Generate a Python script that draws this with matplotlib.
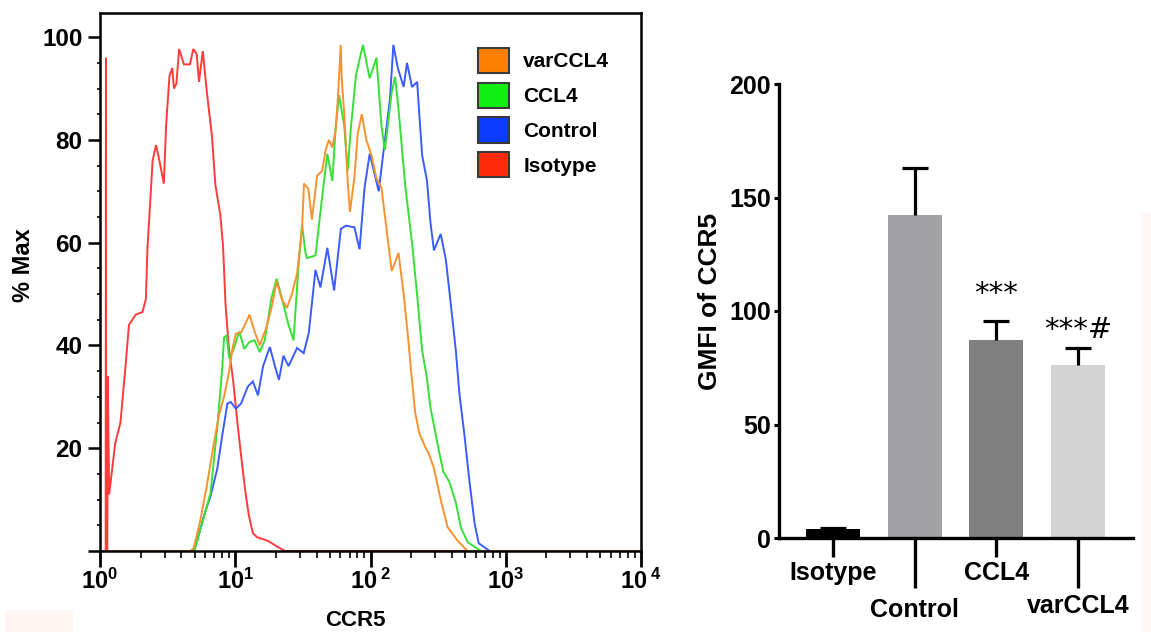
import numpy as np
import matplotlib
matplotlib.use('Agg')
import matplotlib.pyplot as plt
from matplotlib.patches import Patch, Rectangle
from matplotlib.ticker import FixedLocator, NullFormatter

plt.rcParams['font.family'] = ['Liberation Sans', 'DejaVu Sans']
plt.rcParams['font.weight'] = 'bold'
plt.rcParams['mathtext.fontset'] = 'custom'
plt.rcParams['mathtext.rm'] = 'Liberation Sans:bold'
plt.rcParams['mathtext.it'] = 'Liberation Sans:bold'
plt.rcParams['mathtext.bf'] = 'Liberation Sans:bold'

# ---------------- Histogram data (x = log10 CCR5 intensity, y = % Max) ----------------
iso_log10 = [0.000, 0.042, 0.044, 0.046, 0.054, 0.057, 0.068, 0.090, 0.113, 0.151,
             0.189, 0.214, 0.264, 0.314, 0.339, 0.351, 0.376, 0.389, 0.414, 0.439,
             0.472, 0.489, 0.514, 0.534, 0.547, 0.565, 0.585, 0.620, 0.665, 0.690,
             0.715, 0.732, 0.760, 0.790, 0.828, 0.853, 0.890, 0.910, 0.928, 0.953,
             0.985, 1.020, 1.050, 1.075, 1.100, 1.130, 1.160, 1.240, 1.320, 1.370, 4.000]
iso_pct = [0, 0, 96, 0, 0, 34, 11, 16, 21, 25,
           36, 44, 46, 46.5, 49, 59, 70, 76, 79, 76,
           71.5, 83, 92.5, 94, 90, 91, 97.7, 94.7, 94.7, 97.7,
           96.7, 91.3, 97.3, 89.3, 80.7, 71.3, 65.3, 59.3, 48, 39.5,
           33, 24, 17, 11.5, 7, 3.5, 2.7, 2, 0.7, 0, 0]

ctl_log10 = [0.000, 0.690, 0.700, 0.767, 0.817, 0.867, 0.905, 0.942, 0.967, 1.005,
             1.043, 1.093, 1.130, 1.168, 1.206, 1.256, 1.293, 1.323, 1.356, 1.394,
             1.457, 1.506, 1.544, 1.593, 1.630, 1.681, 1.731, 1.781, 1.818, 1.881,
             1.919, 1.956, 1.994, 2.031, 2.061, 2.094, 2.144, 2.169, 2.202, 2.245,
             2.270, 2.307, 2.345, 2.366, 2.382, 2.418, 2.443, 2.469, 2.519, 2.557,
             2.594, 2.631, 2.657, 2.694, 2.732, 2.770, 2.800, 2.882, 4.000]
ctl_pct = [0, 0, 0.3, 6.7, 10.7, 16, 22.7, 28.7, 29, 27.7,
           28.7, 32, 33, 30.3, 36, 39.7, 36, 33.3, 38, 36,
           39.5, 38.5, 42.5, 54.7, 51.3, 59, 50.7, 62.7, 63.3, 63,
           58.7, 70.7, 77.3, 73.3, 70, 77.3, 88, 98.5, 94, 90.3,
           95, 90.3, 91.3, 83, 77, 72, 64, 58.5, 61.7, 56.7,
           48, 39, 30.7, 22.7, 13.5, 5.3, 1.5, 0, 0]

ccl_log10 = [0.000, 0.690, 0.700, 0.767, 0.817, 0.867, 0.905, 0.917, 0.937, 0.955,
             0.980, 1.030, 1.067, 1.105, 1.143, 1.181, 1.218, 1.268, 1.306, 1.344,
             1.394, 1.431, 1.469, 1.494, 1.519, 1.530, 1.593, 1.643, 1.681, 1.718,
             1.743, 1.768, 1.806, 1.831, 1.856, 1.893, 1.944, 1.994, 2.044, 2.081,
             2.106, 2.157, 2.182, 2.207, 2.257, 2.307, 2.344, 2.382, 2.415, 2.443,
             2.494, 2.538, 2.582, 2.630, 2.669, 2.719, 2.800, 2.820, 4.000]
ccl_pct = [0, 0, 0.3, 6.5, 11.3, 24, 36, 41.5, 42, 37.5,
           38.7, 42.7, 39.3, 40.7, 41, 38.7, 41, 49.3, 53, 49.3,
           44, 41, 56, 63.5, 58, 57, 57.5, 69, 77.3, 72,
           82.7, 88.7, 82.7, 74, 82.7, 92.7, 98.5, 92, 96, 82.7,
           78, 89.3, 92.3, 86, 71, 60, 50, 39, 34, 28,
           21, 15.5, 13.5, 9.5, 4.5, 1.7, 0.3, 0, 0]

var_log10 = [0.000, 0.665, 0.692, 0.742, 0.792, 0.842, 0.880, 0.917, 0.955, 0.980,
             1.005, 1.043, 1.080, 1.105, 1.143, 1.181, 1.230, 1.268, 1.306, 1.344,
             1.381, 1.419, 1.457, 1.494, 1.508, 1.540, 1.567, 1.605, 1.643, 1.668,
             1.693, 1.718, 1.743, 1.763, 1.780, 1.787, 1.806, 1.831, 1.848, 1.881,
             1.906, 1.936, 1.969, 2.007, 2.044, 2.081, 2.119, 2.157, 2.207, 2.245,
             2.280, 2.300, 2.330, 2.360, 2.400, 2.430, 2.470, 2.519, 2.569, 2.644,
             2.706, 2.720, 4.000]
var_pct = [0, 0, 0.5, 6, 13, 21, 26.5, 30, 35, 39.5,
           42.3, 42.5, 44.5, 46, 42.7, 40, 43.5, 47.3, 52.5, 49,
           47.3, 50, 54, 62.7, 71.5, 70.5, 64.5, 73, 74, 78,
           80, 78.5, 82, 90, 98.5, 92, 85, 72, 66, 72.7,
           81.3, 85, 80, 77, 72.5, 70.7, 62.5, 54.5, 58, 50,
           41, 35, 27, 23, 20.5, 19, 16, 10, 4.7, 2,
           0.3, 0, 0]

legend_labels = ['varCCL4', 'CCL4', 'Control', 'Isotype']
hist_yticks = [0, 20, 40, 60, 80, 100]
hist_yticklabels = ['', '20', '40', '60', '80', '100']
hist_xticks = [1, 10, 100, 1000, 10000]
hist_xticklabels = [r'$10^{0}$', r'$10^{1}$', r'${10\,}^{2}$', r'$10^{3}$', r'${10\,}^{4}$']

# ---------------- Bar chart data ----------------
categories = ['Isotype', 'Control', 'CCL4', 'varCCL4']
gmfi = [3.8, 142.3, 87.2, 76.2]
gmfi_err = [0.6, 20.7, 8.4, 7.5]
significance = ['', '', '***', '***#']
sig_y = [0, 0, 104, 88]
bar_yticks = [0, 50, 100, 150, 200]

# ---------------- Figure ----------------
W, H = 1151, 632
fig = plt.figure(figsize=(W / 100, H / 100), dpi=100)
fig.patch.set_facecolor('white')


def fx(px):
    return px / W


def fy(py):
    return 1 - py / H


# faint artifacts of the original image
fig.patches.append(Rectangle((fx(5), fy(632)), fx(73) - fx(5), fy(610) - fy(632),
                             transform=fig.transFigure, facecolor='#fff5f3', edgecolor='none', zorder=0))
fig.patches.append(Rectangle((fx(1142), fy(632)), fx(1151) - fx(1142), fy(213) - fy(632),
                             transform=fig.transFigure, facecolor='#fff7f7', edgecolor='none', zorder=0))

# ---------------- Left: histogram ----------------
ax1 = fig.add_axes([fx(100), fy(551), fx(641) - fx(100), fy(13) - fy(551)])
series = [
    (iso_log10, iso_pct, '#ff3b3b'),
    (ctl_log10, ctl_pct, '#3a5cff'),
    (ccl_log10, ccl_pct, '#36e036'),
    (var_log10, var_pct, '#f7922e'),
]
for lx, pct, col in series:
    ax1.plot(10 ** np.array(lx), pct, color=col, lw=1.4, solid_joinstyle='miter')

ax1.set_xscale('log')
ax1.set_xlim(1, 1e4)
ax1.set_ylim(0, 104.7)
for s in ax1.spines.values():
    s.set_linewidth(1.8)

ax1.set_yticks(hist_yticks)
ax1.set_yticklabels(hist_yticklabels, fontsize=17.5, fontweight='bold')
ax1.yaxis.set_minor_locator(FixedLocator([v for v in range(5, 101, 5) if v % 20 != 0]))
ax1.set_xticks(hist_xticks)
ax1.set_xticklabels(hist_xticklabels, fontsize=17)
minor_x = [m * 10 ** d for d in range(0, 4) for m in range(2, 10)]
ax1.xaxis.set_minor_locator(FixedLocator(minor_x))
ax1.xaxis.set_minor_formatter(NullFormatter())
ax1.tick_params(axis='y', which='major', length=8.6, width=1.8, pad=4, direction='out')
ax1.tick_params(axis='y', which='minor', length=2, width=1.2, direction='out')
ax1.tick_params(axis='x', which='major', length=11.5, width=2, pad=1, direction='out')
ax1.tick_params(axis='x', which='minor', length=5, width=1.2, direction='out')

handles = [Patch(facecolor=c, edgecolor='#3a3a3a', linewidth=1.5)
           for c in ['#ff8000', '#12ef12', '#0a3cff', '#ff2a0a']]
leg = ax1.legend(handles, legend_labels, loc='upper left',
                 bbox_to_anchor=(fx(478), fy(48)), bbox_transform=fig.transFigure,
                 frameon=False, prop={'size': 15, 'weight': 'bold'},
                 handlelength=1.48, handleheight=1.48, handletextpad=0.7,
                 labelspacing=0.46, borderpad=0, borderaxespad=0)

fig.text(fx(24), fy(265), '% Max', rotation=90, ha='center', va='center',
         fontsize=17, fontweight='bold')
fig.text(fx(355), fy(621), 'CCR5', ha='center', va='center', fontsize=16, fontweight='bold')

# ---------------- Right: bar chart ----------------
ax2 = fig.add_axes([fx(779), fy(538), fx(1133) - fx(779), fy(84) - fy(538)])
x = np.arange(len(categories))
bar_colors = ['#000000', '#a2a2a6', '#808080', '#d3d3d3']
ax2.bar(x, gmfi, width=0.66, color=bar_colors, zorder=2)
eb = ax2.errorbar(x, gmfi, yerr=[np.zeros(len(gmfi)), gmfi_err], fmt='none', ecolor='black',
                  elinewidth=2.3, capsize=9.5, capthick=2.3, zorder=3)
# only the upper caps (one-sided error bars)
eb[1][0].set_visible(False)
ax2.set_xlim(-0.66, 3.67)
ax2.set_ylim(0, 200)
ax2.spines['top'].set_visible(False)
ax2.spines['right'].set_visible(False)
ax2.spines['left'].set_linewidth(2.4)
ax2.spines['bottom'].set_linewidth(2.4)
ax2.set_yticks(bar_yticks)
ax2.set_yticklabels([str(v) for v in bar_yticks], fontsize=18, fontweight='bold')
ax2.tick_params(axis='y', length=3.6, width=2.2, pad=2)
ax2.set_xticks(x)
ax2.set_xticklabels([''] * len(categories))
tick_len = [13.7, 36, 13.7, 36]
for t, L in zip(ax2.xaxis.get_major_ticks(), tick_len):
    t.tick1line.set_markersize(L)
    t.tick1line.set_markeredgewidth(2.4)
label_off = [30.2, 56.9, 30.2, 54.0]
for i, (cat, off) in enumerate(zip(categories, label_off)):
    ax2.annotate(cat, xy=(i, 0), xycoords=('data', 'axes fraction'),
                 xytext=(0, -off), textcoords='offset points',
                 ha='center', va='baseline', fontsize=18, fontweight='bold',
                 annotation_clip=False)
for i, (s, yv) in enumerate(zip(significance, sig_y)):
    if s:
        ax2.text(i, yv, s, ha='center', va='baseline', fontsize=21,
                 fontweight='normal', family='DejaVu Sans')
fig.text(fx(710), fy(301), 'GMFI of CCR5', rotation=90, ha='center', va='center',
         fontsize=19, fontweight='bold')

fig.savefig('out.png', dpi=100)
